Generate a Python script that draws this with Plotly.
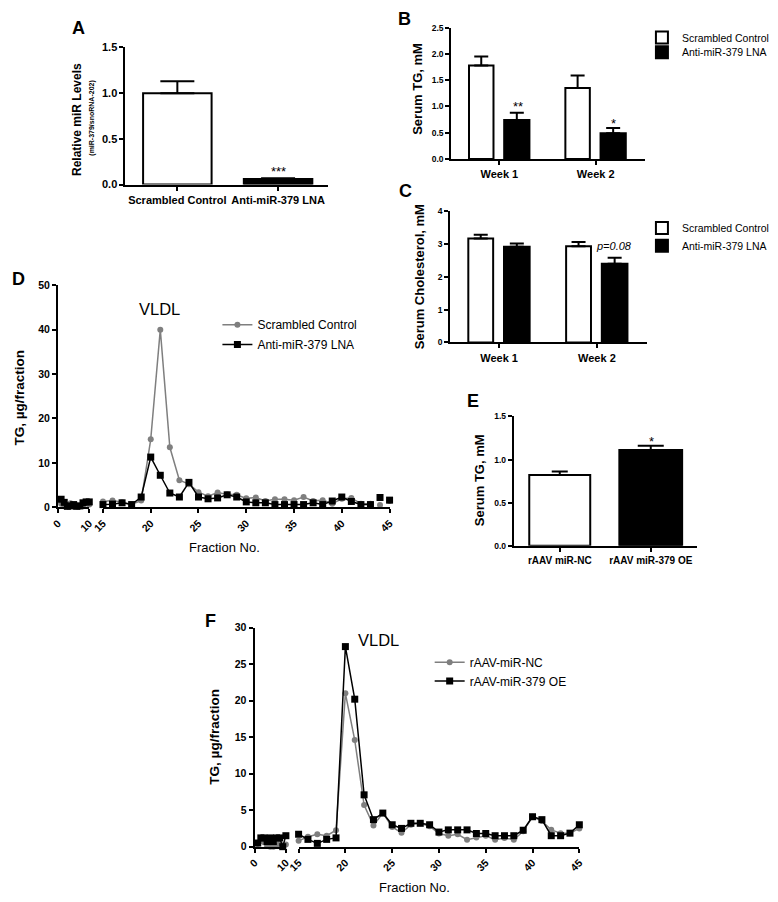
import plotly.graph_objects as go

W, H = 778, 902
FONT = "Liberation Sans, Arial, Helvetica, sans-serif"


def fx(p):
    return p / W


def fy(p):
    return 1 - p / H


# ---------------- data ----------------
a_categories = ["Scrambled Control", "Anti-miR-379 LNA"]
a_means = [1.00, 0.06]
a_sem = [0.13, 0.01]

b_weeks = ["Week 1", "Week 2"]
b_scrambled = [1.78, 1.35]
b_scrambled_sem = [0.17, 0.24]
b_lna = [0.74, 0.49]
b_lna_sem = [0.14, 0.10]

c_weeks = ["Week 1", "Week 2"]
c_scrambled = [3.17, 2.93]
c_scrambled_sem = [0.11, 0.13]
c_lna = [2.92, 2.40]
c_lna_sem = [0.10, 0.18]

e_categories = ["rAAV miR-NC", "rAAV miR-379 OE"]
e_means = [0.82, 1.11]
e_sem = [0.04, 0.05]

d_fractions_early = [1, 2, 3, 4, 5, 6, 7, 8, 9, 10]
d_scrambled_early = [0.8, 0.4, 0.5, 0.9, 0.5, 0.4, 0.2, 0.5, 0.9, 0.6]
d_lna_early = [1.8, 1.1, 0.2, 0.3, 0.6, 0.2, 0.3, 1.0, 1.2, 1.2]
d_fractions_late = list(range(15, 46))
d_scrambled_late = [1.3, 1.5, 1.1, 0.7, 1.5, 15.3, 40.0, 13.5, 6.1, 5.2,
                    3.4, 2.5, 3.3, 2.9, 2.8, 2.0, 2.2, 1.4, 1.8, 1.8,
                    1.6, 2.3, 1.4, 1.6, 0.8, 1.9, 2.1, 0.8, 0.8, 0.5, 1.4]
d_lna_late = [0.6, 0.7, 1.0, 0.6, 2.3, 11.3, 7.2, 3.2, 2.3, 5.6,
              2.3, 1.9, 2.1, 2.8, 2.3, 1.2, 1.0, 1.0, 0.6, 0.6,
              0.6, 0.6, 1.0, 0.6, 1.4, 2.3, 1.3, 0.6, 0.6, 2.2, 1.6]
d_connected = 29  # fractions 15..43 joined by a line; 44, 45 stand alone

f_fractions_early = [1, 2, 3, 4, 5, 6, 7, 8, 9, 10]
f_nc_early = [0.4, 0.8, 0.6, 0.1, 0.0, 0.0, 0.1, 0.5, 0.2, 0.3]
f_oe_early = [0.5, 1.2, 1.2, 0.7, 1.2, 0.7, 1.2, 1.2, 0.0, 1.5]
f_fractions_late = list(range(15, 46))
f_nc_late = [0.8, 1.35, 1.7, 1.5, 2.25, 21.0, 14.6, 5.7, 2.9, 4.6,
             2.7, 1.9, 3.0, 3.2, 2.8, 1.8, 1.5, 1.7, 0.95, 1.25,
             1.5, 0.95, 1.2, 0.95, 2.1, 4.1, 3.5, 2.3, 1.85, 1.85, 2.5]
f_oe_late = [1.7, 1.0, 0.45, 1.0, 1.2, 27.4, 20.2, 7.1, 3.7, 4.6,
             3.0, 2.5, 3.2, 3.2, 3.0, 2.0, 2.3, 2.3, 2.3, 1.8,
             1.8, 1.5, 1.5, 1.5, 2.25, 4.1, 3.7, 1.5, 1.5, 1.85, 3.0]

GRAY = "#7f7f7f"

fig = go.Figure()


def err(arr, w):
    return dict(type="data", array=arr, arrayminus=[0] * len(arr), symmetric=False,
                color="black", thickness=2, width=w)


BAR_LINE = dict(color="black", width=2)

# ---------- Panel A ----------
fig.add_trace(go.Bar(x=a_categories, y=a_means, width=0.68,
                     marker=dict(color=["white", "black"], line=BAR_LINE),
                     error_y=err(a_sem, 17), showlegend=False,
                     xaxis="x", yaxis="y"))

# ---------- Panel B ----------
fig.add_trace(go.Bar(x=b_weeks, y=b_scrambled, name="Scrambled Control",
                     width=0.254, offset=-0.315,
                     marker=dict(color="white", line=BAR_LINE),
                     error_y=err(b_scrambled_sem, 7), legend="legend",
                     xaxis="x2", yaxis="y2"))
fig.add_trace(go.Bar(x=b_weeks, y=b_lna, name="Anti-miR-379 LNA",
                     width=0.262, offset=0.05,
                     marker=dict(color="black", line=BAR_LINE),
                     error_y=err(b_lna_sem, 7), legend="legend2",
                     xaxis="x2", yaxis="y2"))

# ---------- Panel C ----------
fig.add_trace(go.Bar(x=c_weeks, y=c_scrambled, name="Scrambled Control",
                     width=0.254, offset=-0.315,
                     marker=dict(color="white", line=BAR_LINE),
                     error_y=err(c_scrambled_sem, 7), legend="legend3",
                     xaxis="x3", yaxis="y3"))
fig.add_trace(go.Bar(x=c_weeks, y=c_lna, name="Anti-miR-379 LNA",
                     width=0.262, offset=0.05,
                     marker=dict(color="black", line=BAR_LINE),
                     error_y=err(c_lna_sem, 7), legend="legend4",
                     xaxis="x3", yaxis="y3"))

# ---------- Panel E ----------
fig.add_trace(go.Bar(x=e_categories[:1], y=e_means[:1], width=0.67,
                     marker=dict(color="white", line=BAR_LINE),
                     error_y=err(e_sem[:1], 8), showlegend=False,
                     xaxis="x6", yaxis="y6"))
fig.add_trace(go.Bar(x=e_categories[1:], y=e_means[1:], width=0.69,
                     marker=dict(color="black", line=BAR_LINE),
                     error_y=err(e_sem[1:], 13), showlegend=False,
                     xaxis="x6", yaxis="y6"))

# ---------- line panels ----------
GRAY_STYLE = dict(line=dict(color=GRAY, width=1.5),
                  marker=dict(color=GRAY, symbol="circle", size=6))
BLACK_STYLE = dict(line=dict(color="black", width=1.5),
                   marker=dict(color="black", symbol="square", size=7))


def line_panel(xe, ye, xl, yl, n_conn, name, style, xa_e, xa_l, ya, legend):
    fig.add_trace(go.Scatter(x=xe, y=ye, mode="lines+markers", name=name,
                             showlegend=False, cliponaxis=False,
                             xaxis=xa_e, yaxis=ya, **style))
    fig.add_trace(go.Scatter(x=xl[:n_conn], y=yl[:n_conn], mode="lines+markers",
                             name=name, legend=legend, cliponaxis=False,
                             xaxis=xa_l, yaxis=ya, **style))
    if n_conn < len(xl):
        fig.add_trace(go.Scatter(x=xl[n_conn:], y=yl[n_conn:], mode="markers",
                                 name=name, showlegend=False, cliponaxis=False,
                                 marker=style["marker"], xaxis=xa_l, yaxis=ya))


line_panel(d_fractions_early, d_scrambled_early, d_fractions_late, d_scrambled_late,
           d_connected, "Scrambled Control", GRAY_STYLE, "x4", "x5", "y4", "legend5")
line_panel(d_fractions_early, d_lna_early, d_fractions_late, d_lna_late,
           d_connected, "Anti-miR-379 LNA", BLACK_STYLE, "x4", "x5", "y4", "legend6")
line_panel(f_fractions_early, f_nc_early, f_fractions_late, f_nc_late,
           len(f_fractions_late), "rAAV-miR-NC", GRAY_STYLE, "x7", "x8", "y7", "legend7")
line_panel(f_fractions_early, f_oe_early, f_fractions_late, f_oe_late,
           len(f_fractions_late), "rAAV-miR-379 OE", BLACK_STYLE, "x7", "x8", "y7", "legend8")


# ---------- axes ----------
def ax(**kw):
    base = dict(showline=True, linecolor="black", linewidth=2, ticks="outside",
                ticklen=4, tickwidth=2, tickcolor="black", showgrid=False,
                zeroline=False, fixedrange=True)
    base.update(kw)
    return base


def tf(size, bold=True):
    return dict(family=FONT, size=size, color="black", weight="bold" if bold else "normal")


layout_axes = dict(
    xaxis=ax(domain=[fx(116), fx(323)], range=[-0.515, 1.495], anchor="y",
             type="category", tickfont=tf(11)),
    yaxis=ax(domain=[fy(181), fy(42)], range=[0, 1.5], dtick=0.5, tickformat=".1f",
             anchor="x", tickfont=tf(11)),
    xaxis2=ax(domain=[fx(449), fx(647)], range=[-0.5, 1.51], anchor="y2",
              type="category", tickfont=tf(11)),
    yaxis2=ax(domain=[fy(155), fy(22)], range=[0, 2.5], dtick=0.5, tickformat=".1f",
              anchor="x2", tickfont=tf(8.5)),
    xaxis3=ax(domain=[fx(448), fx(649)], range=[-0.5, 1.51], anchor="y3",
              type="category", tickfont=tf(11)),
    yaxis3=ax(domain=[fy(341), fy(208)], range=[0, 4], dtick=1,
              anchor="x3", tickfont=tf(8.5)),
    xaxis4=ax(domain=[fx(47), fx(79)], range=[0, 10], tickvals=[0, 10], anchor="y4",
              tickangle=-45, tickfont=tf(10.5)),
    xaxis5=ax(domain=[fx(93), fx(386)], range=[15, 45],
              tickvals=[15, 20, 25, 30, 35, 40, 45], anchor="y4",
              tickangle=-45, tickfont=tf(10.5)),
    yaxis4=ax(domain=[fy(508), fy(283)], range=[0, 50], dtick=10, anchor="x4",
              tickfont=tf(10.5)),
    xaxis6=ax(domain=[fx(513), fx(700)], range=[-0.505, 1.505], anchor="y6",
              type="category", tickfont=tf(10)),
    yaxis6=ax(domain=[fy(547), fy(416)], range=[0, 1.5], dtick=0.5, tickformat=".1f",
              anchor="x6", tickfont=tf(8.5)),
    xaxis7=ax(domain=[fx(248), fx(280)], range=[0, 10], tickvals=[0, 10], anchor="y7",
              tickangle=-45, tickfont=tf(10.5)),
    xaxis8=ax(domain=[fx(293), fx(580)], range=[15, 45],
              tickvals=[15, 20, 25, 30, 35, 40, 45], anchor="y7",
              tickangle=-45, tickfont=tf(10.5)),
    yaxis7=ax(domain=[fy(852), fy(630)], range=[0, 30], dtick=5, anchor="x7",
              tickfont=tf(10.5)),
)


# ---------- annotations ----------
def note(text, x, y, size, bold=False, angle=0, italic=False):
    return dict(text=text, x=fx(x), y=fy(y), xref="paper", yref="paper",
                showarrow=False, textangle=angle, xanchor="center", yanchor="middle",
                font=dict(family=FONT, size=size, color="black",
                          weight="bold" if bold else "normal",
                          style="italic" if italic else "normal"))


annotations = [
    note("A", 68, 22, 18, True),
    note("B", 401, 13, 18, True),
    note("C", 402, 187, 18, True),
    note("D", 7, 277, 18, True),
    note("E", 471, 400, 18, True),
    note("F", 203, 623, 18, True),
    note("Relative miR Levels", 67, 115, 12, True, -90),
    note("(miR-379/snoRNA-202)", 82, 114, 7, True, -90),
    note("Serum TG, mM", 415, 84, 13, True, -90),
    note("Serum Cholesterol, mM", 416, 274, 13, True, -90),
    note("TG, µg/fraction", 8, 397, 13.5, True, -90),
    note("Serum TG, mM", 478, 481, 13, True, -90),
    note("TG, µg/fraction", 207, 740, 13.5, True, -90),
    note("Fraction No.", 217, 549, 13),
    note("Fraction No.", 411, 893, 13),
    note("VLDL", 151, 307, 16.5),
    note("VLDL", 375, 643, 16.5),
    note("***", 272, 168, 13),
    note("**", 517, 102, 13),
    note("*", 615, 119, 13),
    note("*", 654, 441, 13),
    note("p=0.08", 615, 243, 11, italic=True),
]


def legend_at(x, y, size):
    return dict(x=fx(x), y=fy(y), xanchor="left", yanchor="middle",
                bgcolor="rgba(0,0,0,0)", borderwidth=0, tracegroupgap=0,
                font=dict(family=FONT, size=size, color="black"))


fig.update_layout(
    width=W, height=H,
    margin=dict(l=0, r=0, t=0, b=0),
    paper_bgcolor="white", plot_bgcolor="white",
    font=dict(family=FONT, color="black"),
    barmode="overlay",
    legend=legend_at(644, 32, 10.5),
    legend2=legend_at(644, 47, 10.5),
    legend3=legend_at(644, 225, 10.5),
    legend4=legend_at(644, 243, 10.5),
    legend5=legend_at(210, 323, 12),
    legend6=legend_at(210, 343, 12),
    legend7=legend_at(427, 665, 12),
    legend8=legend_at(427, 684, 12),
    annotations=annotations,
    **layout_axes,
)

fig.write_html("out.html",
               config={"displayModeBar": False},
               post_script="document.body.style.margin='0';document.body.style.padding='0';")
